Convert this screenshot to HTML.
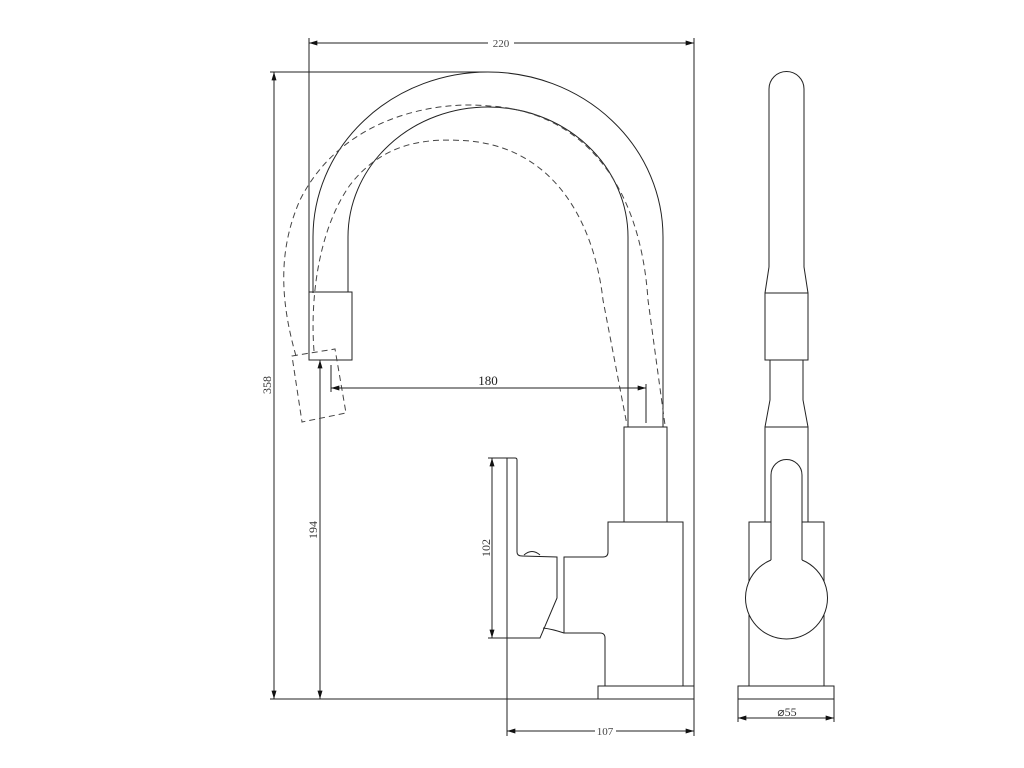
<!DOCTYPE html>
<html><head><meta charset="utf-8"><style>html,body{margin:0;padding:0;background:#fff}svg{display:block}</style></head>
<body>
<svg width="1024" height="768" viewBox="0 0 1024 768" xmlns="http://www.w3.org/2000/svg" font-family="Liberation Serif, serif" fill="none" stroke="#222" stroke-width="1">
<defs>
<marker id="a" viewBox="0 0 10 6" refX="10" refY="3" markerWidth="12" markerHeight="5" orient="auto-start-reverse" markerUnits="userSpaceOnUse"><path d="M0,0L10,3L0,6z" fill="#111" stroke="none"/></marker>
</defs>
<!-- 220 dim -->
<line x1="309" y1="38" x2="309" y2="295"/>
<line x1="694" y1="38" x2="694" y2="736"/>
<line x1="309" y1="43" x2="488" y2="43" marker-start="url(#a)"/>
<line x1="514" y1="43" x2="694" y2="43" marker-end="url(#a)"/>
<text x="501" y="47" font-size="11" fill="#444" stroke="none" text-anchor="middle">220</text>
<!-- 358 dim -->
<line x1="270" y1="72" x2="487" y2="72"/>
<line x1="270" y1="699" x2="694" y2="699"/>
<line x1="274" y1="72" x2="274" y2="699" marker-start="url(#a)" marker-end="url(#a)"/>
<text x="0" y="0" font-size="12" fill="#333" stroke="none" text-anchor="middle" transform="translate(271,385) rotate(-90)">358</text>
<!-- 194 dim -->
<line x1="320" y1="360" x2="320" y2="699" marker-start="url(#a)" marker-end="url(#a)"/>
<text x="0" y="0" font-size="12" fill="#333" stroke="none" text-anchor="middle" transform="translate(317,530) rotate(-90)">194</text>
<!-- spout solid -->
<path d="M313,293 L313,237 A175,165 0 0 1 663,237 L663,427"/>
<path d="M348,292 L348,237 A140,130 0 0 1 628,237 L628,427"/>
<rect x="309" y="292" width="43" height="68"/>
<!-- dashed -->
<g stroke-dasharray="6,4" stroke="#444">
<path d="M296,356 C280,300 278,250 300,200 C340,120 430,100 490,106 C580,112 640,180 648,300 L665,425"/>
<path d="M314,351 C310,300 318,230 350,185 C385,140 430,138 470,141 C560,150 595,230 603,300 L627,425"/>
<polygon points="292,356 335,349 346,413 302,422"/>
</g>
<!-- 180 dim -->
<line x1="331" y1="365" x2="331" y2="392"/>
<line x1="646" y1="384" x2="646" y2="423"/>
<line x1="331" y1="388" x2="646" y2="388" marker-start="url(#a)" marker-end="url(#a)"/>
<text x="488" y="385" font-size="13" fill="#222" stroke="none" text-anchor="middle">180</text>
<!-- neck & body -->
<rect x="624" y="427" width="43" height="95"/>
<path d="M683,686 L683,522 L608,522 L608,552 Q608,557 603,557 L564,557 L564,633 L600,633 Q605,633 605,638 L605,686"/>
<rect x="598" y="686" width="96" height="13"/>
<!-- handle -->
<path d="M507,699 L507,458 L515,458 Q517,458 517,460 L517,552 Q517,556 522,556 L557,557 L557,598 L540,638 L507,638"/>
<path d="M524,555 Q532,548 540,555"/>
<path d="M543,628 Q552,629 564,633"/>
<!-- 102 dim -->
<line x1="488" y1="458" x2="507" y2="458"/>
<line x1="488" y1="638" x2="507" y2="638"/>
<line x1="492" y1="458" x2="492" y2="638" marker-start="url(#a)" marker-end="url(#a)"/>
<text x="0" y="0" font-size="12" fill="#333" stroke="none" text-anchor="middle" transform="translate(490,548) rotate(-90)">102</text>
<!-- 107 dim -->
<line x1="507" y1="699" x2="507" y2="736"/>
<line x1="507" y1="731" x2="595" y2="731" marker-start="url(#a)"/>
<line x1="616" y1="731" x2="694" y2="731" marker-end="url(#a)"/>
<text x="605" y="735" font-size="11" fill="#444" stroke="none" text-anchor="middle">107</text>
<!-- side view -->
<path d="M769,267 L769,89 A17.5,17.5 0 0 1 804,89 L804,267 L808,293"/>
<path d="M769,267 L765,293"/>
<rect x="765" y="293" width="43" height="67"/>
<path d="M770,360 L770,400 L765,427 M803,360 L803,400 L808,427"/>
<rect x="765" y="427" width="43" height="95"/>
<rect x="749" y="522" width="75" height="164"/>
<path d="M771,560 L771,475 A15.5,15.5 0 0 1 802,475 L802,560" fill="#fff"/>
<path d="M771,560 A41,41 0 1 0 802,560" fill="#fff"/>
<rect x="738" y="686" width="96" height="13"/>
<line x1="738" y1="699" x2="738" y2="722"/>
<line x1="834" y1="699" x2="834" y2="722"/>
<line x1="738" y1="718" x2="834" y2="718" marker-start="url(#a)" marker-end="url(#a)"/>
<text x="787" y="716" font-size="12" fill="#333" stroke="none" text-anchor="middle">⌀55</text>
</svg>
</body></html>
